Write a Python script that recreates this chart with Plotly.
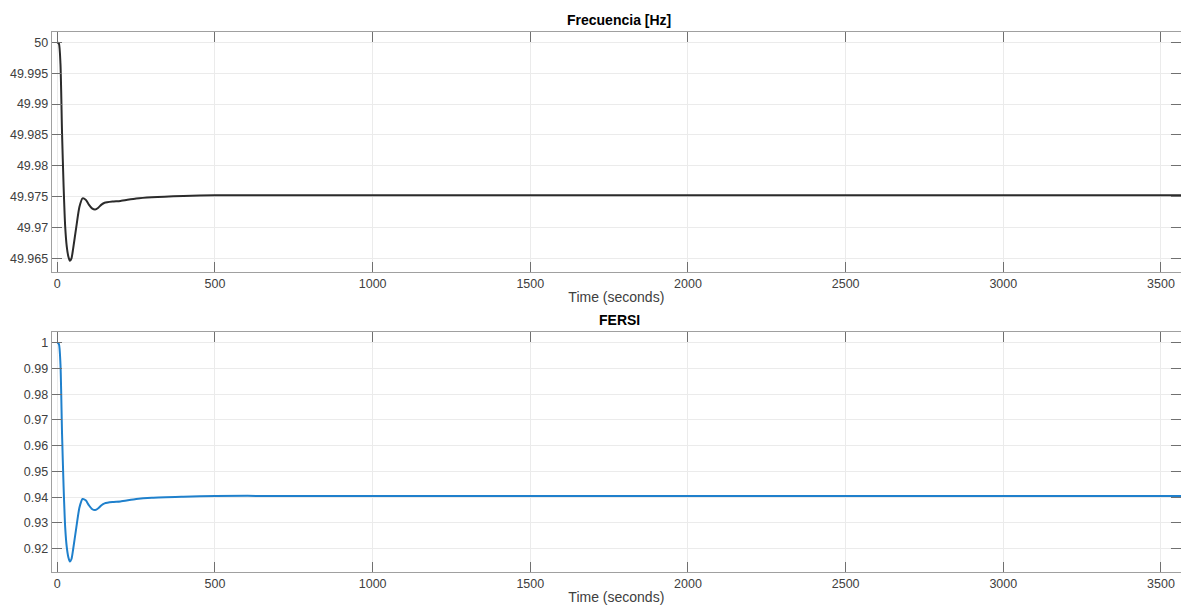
import plotly.graph_objects as go

# ---- data ----
time_s = [0, 5, 10, 15, 20, 25, 30, 35, 40, 45, 50, 60, 70, 80, 90, 100, 110, 120,
          130, 140, 150, 175, 200, 250, 300, 400, 500, 700, 1000, 2000, 3600]
frecuencia = [50.0, 49.9998, 49.9965, 49.9853, 49.9766, 49.9701, 49.9669, 49.9653,
              49.9646, 49.9650, 49.9665, 49.9700, 49.9733, 49.9747, 49.9745, 49.9737,
              49.9731, 49.9729, 49.9732, 49.9737, 49.9740, 49.9742, 49.9743, 49.9747,
              49.9749, 49.9751, 49.9752, 49.9752, 49.9752, 49.9752, 49.9752]
fersi = [1.0, 0.9995, 0.9916, 0.9647, 0.9438, 0.9282, 0.9206, 0.9167, 0.9150, 0.9160,
         0.9196, 0.9280, 0.9359, 0.9393, 0.9388, 0.9369, 0.9354, 0.9350, 0.9357, 0.9369,
         0.9376, 0.9381, 0.9383, 0.9393, 0.9398, 0.9402, 0.9405, 0.9405, 0.9405, 0.9405, 0.9405]

x_ticks = [0, 500, 1000, 1500, 2000, 2500, 3000, 3500]
f_ticks = [49.965, 49.97, 49.975, 49.98, 49.985, 49.99, 49.995, 50.0]
f_labels = ["49.965", "49.97", "49.975", "49.98", "49.985", "49.99", "49.995", "50"]
s_ticks = [0.92, 0.93, 0.94, 0.95, 0.96, 0.97, 0.98, 0.99, 1.0]
s_labels = ["0.92", "0.93", "0.94", "0.95", "0.96", "0.97", "0.98", "0.99", "1"]

W, H = 1181, 606
FONT = "Liberation Sans, Arial, Helvetica, sans-serif"

fig = go.Figure()
fig.add_trace(go.Scatter(x=time_s, y=frecuencia, mode="lines",
                         line=dict(color="#2b2b2b", width=2, shape="spline", smoothing=0.6),
                         xaxis="x", yaxis="y", showlegend=False))
fig.add_trace(go.Scatter(x=time_s, y=fersi, mode="lines",
                         line=dict(color="#1f80cc", width=2, shape="spline", smoothing=0.6),
                         xaxis="x2", yaxis="y2", showlegend=False))

left = 51.7 / W
xrange = [-17.8, 3563.5]

axis_common = dict(showline=True, mirror="ticks", linecolor="#a0a0a0", linewidth=1,
                   ticks="inside", ticklen=10, tickcolor="#707070", tickwidth=1,
                   showgrid=True, gridcolor="#ebebeb", gridwidth=1, zeroline=False,
                   tickfont=dict(family=FONT, size=12.5, color="#404040"))

xtitle = dict(text="Time (seconds)", standoff=2,
              font=dict(family=FONT, size=14, color="#404040"))

fig.update_layout(
    width=W, height=H, margin=dict(l=0, r=0, t=0, b=0),
    paper_bgcolor="white", plot_bgcolor="white",
    font=dict(family=FONT),
    xaxis=dict(domain=[left, 1.0], range=xrange, tickvals=x_ticks, anchor="y",
               title=xtitle, **axis_common),
    yaxis=dict(domain=[1 - 271.7 / H, 1 - 31.7 / H], range=[49.96283, 50.00172],
               tickvals=f_ticks, ticktext=f_labels, anchor="x", **axis_common),
    xaxis2=dict(domain=[left, 1.0], range=xrange, tickvals=x_ticks, anchor="y2",
                title=xtitle, **axis_common),
    yaxis2=dict(domain=[1 - 571.7 / H, 1 - 332.3 / H], range=[0.91107, 1.00404],
                tickvals=s_ticks, ticktext=s_labels, anchor="x2", **axis_common),
    annotations=[
        dict(text="<b>Frecuencia [Hz]</b>", x=619 / W, y=1 - 20 / H, xref="paper", yref="paper",
             showarrow=False, font=dict(family=FONT, size=14, color="#000000"),
             xanchor="center", yanchor="middle"),
        dict(text="<b>FERSI</b>", x=619 / W, y=1 - 320 / H, xref="paper", yref="paper",
             showarrow=False, font=dict(family=FONT, size=14, color="#000000"),
             xanchor="center", yanchor="middle"),
    ],
)

fig.write_html("out.html")
